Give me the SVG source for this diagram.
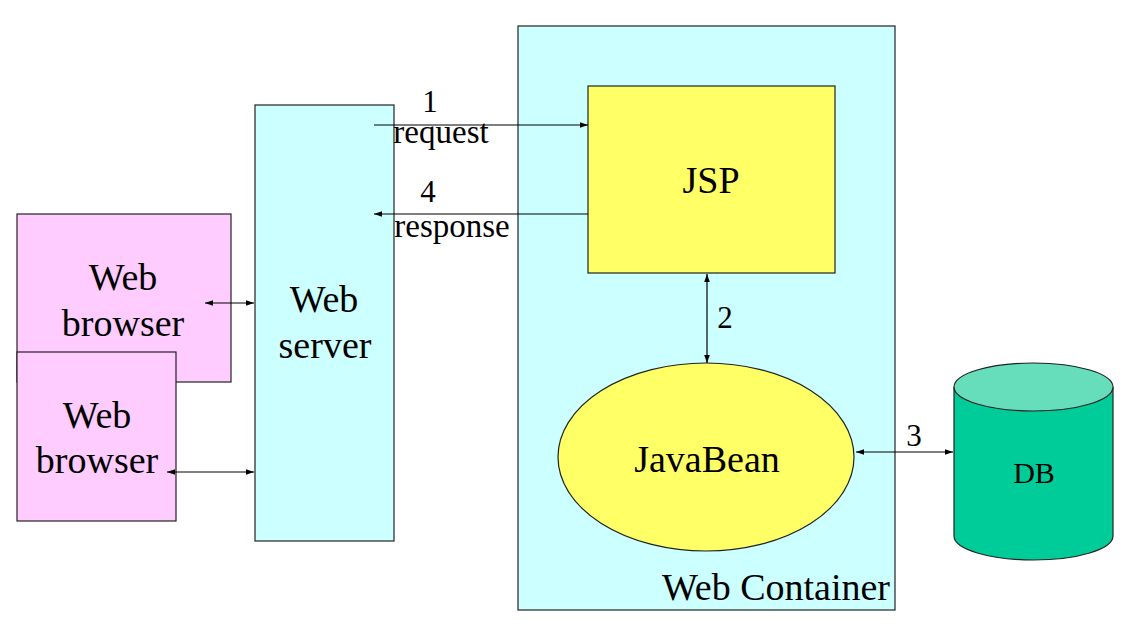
<svg xmlns="http://www.w3.org/2000/svg" width="1127" height="640" viewBox="0 0 1127 640">
<defs>
<style>
.box{stroke:#222;stroke-width:1.2}
.t{fill:#000;text-anchor:middle}
.ln{stroke:#000;stroke-width:1.2;fill:none}
</style>
<marker id="ah" viewBox="0 0 10 10" refX="10" refY="5" markerWidth="8" markerHeight="8" orient="auto-start-reverse" markerUnits="userSpaceOnUse">
<path d="M0,1.5 L10,5 L0,8.5 z" fill="#000"/>
</marker>
</defs>
<rect width="1127" height="640" fill="#fff"/>
<g id="web-container">
<rect class="box" x="518" y="26" width="377" height="584" fill="#CCFFFF"/>
<text class="t" font-family="Liberation Serif" font-size="38" x="776" y="600">Web Container</text>
</g>
<g id="web-server">
<rect class="box" x="255" y="105" width="139" height="436" fill="#CCFFFF"/>
<text class="t" font-family="Liberation Serif" font-size="38" x="324" y="312">Web</text>
<text class="t" font-family="Liberation Serif" font-size="38" x="325" y="358">server</text>
</g>
<g id="browser1">
<rect class="box" x="17" y="214" width="214" height="168" fill="#FFCCFF"/>
<text class="t" font-family="Liberation Serif" font-size="38" x="123" y="290">Web</text>
<text class="t" font-family="Liberation Serif" font-size="38" x="123" y="336">browser</text>
</g>
<g id="browser2">
<rect class="box" x="17" y="352" width="159" height="169" fill="#FFCCFF"/>
<text class="t" font-family="Liberation Serif" font-size="38" x="97" y="428">Web</text>
<text class="t" font-family="Liberation Serif" font-size="38" x="97" y="473">browser</text>
</g>
<g id="jsp">
<rect class="box" x="588" y="86" width="247" height="187" fill="#FFFF66"/>
<text class="t" font-family="Liberation Serif" font-size="38" x="711" y="193">JSP</text>
</g>
<g id="javabean">
<ellipse class="box" cx="706" cy="457" rx="148" ry="94" fill="#FFFF66"/>
<text class="t" font-family="Liberation Serif" font-size="38" x="707" y="472">JavaBean</text>
</g>
<g id="db">
<path class="box" d="M954,387 L954,536 A79.5,24 0 0 0 1113,536 L1113,387" fill="#00CC99"/>
<ellipse class="box" cx="1033.5" cy="387" rx="79.5" ry="24" fill="#66DDBB"/>
<text class="t" font-family="Liberation Serif" font-size="30" x="1034" y="483">DB</text>
</g>
<g id="connectors">
<line class="ln" x1="374" y1="125" x2="588" y2="125" marker-end="url(#ah)"/>
<line class="ln" x1="588" y1="214" x2="374" y2="214" marker-end="url(#ah)"/>
<line class="ln" x1="205" y1="303" x2="254" y2="303" marker-start="url(#ah)" marker-end="url(#ah)"/>
<line class="ln" x1="167" y1="472" x2="254" y2="472" marker-start="url(#ah)" marker-end="url(#ah)"/>
<line class="ln" x1="707" y1="274" x2="707" y2="363" marker-start="url(#ah)" marker-end="url(#ah)"/>
<line class="ln" x1="856" y1="452" x2="953" y2="452" marker-start="url(#ah)" marker-end="url(#ah)"/>
</g>
<g id="labels">
<text class="t" font-family="Liberation Serif" font-size="31" x="430" y="112">1</text>
<text class="t" font-family="Liberation Serif" font-size="33" x="441" y="143">request</text>
<text class="t" font-family="Liberation Serif" font-size="31" x="428" y="202">4</text>
<text class="t" font-family="Liberation Serif" font-size="33" x="452" y="237">response</text>
<text class="t" font-family="Liberation Serif" font-size="31" x="725" y="328">2</text>
<text class="t" font-family="Liberation Serif" font-size="31" x="914" y="446">3</text>
</g>
</svg>
